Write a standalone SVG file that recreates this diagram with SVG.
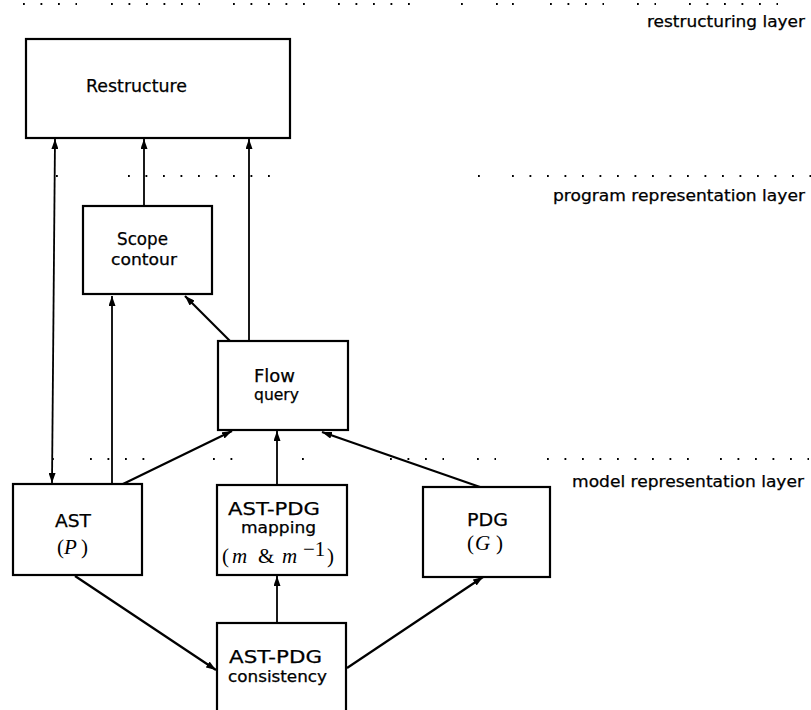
<svg xmlns="http://www.w3.org/2000/svg" width="811" height="710" viewBox="0 0 811 710">
<style>
.box{fill:#fff;stroke:#000;stroke-width:2.2}
.t{font-family:"DejaVu Sans","Liberation Sans",sans-serif;font-size:18px;fill:#000;stroke:#000;stroke-width:0.25}
.s{font-size:15px}
.c{text-anchor:middle}
.m{font-family:"Liberation Serif","DejaVu Serif",serif;font-size:21px;fill:#000}
.mi{font-style:italic}
.ln{stroke:#000;stroke-width:1.8;fill:none}
.dg{stroke:#000;stroke-width:2.2;fill:none}
.dot{stroke:#000;stroke-width:1.8;stroke-dasharray:1.8 15.7;fill:none}
</style>
<defs>
<marker id="ah" viewBox="0 0 10 7" refX="10" refY="3.5" markerWidth="10" markerHeight="7" markerUnits="userSpaceOnUse" orient="auto-start-reverse">
<path d="M0,0 L10,3.5 L0,7 z" fill="#000"/>
</marker>
</defs>
<rect width="811" height="710" fill="#fff"/>

<g id="layers">
<path class="dot" d="M23,4H77 M111,4H200 M233,4H305 M338,4H410 M461,4H463 M496,4H498 M512,4H514 M550,4H604 M637,4H656 M689,4H778"/>
<path class="dot" d="M56,176H58 M128,176H270 M478,176H480 M512,176H811"/>
<path class="dot" d="M52,459H54 M90,459H145 M213,459H233 M302,459H304 M390,459H444 M477,459H496 M547,459H689 M720,459H809"/>
<text class="t s" x="805" y="27" text-anchor="end" textLength="158" lengthAdjust="spacingAndGlyphs">restructuring layer</text>
<text class="t s" x="805" y="201" text-anchor="end" textLength="252" lengthAdjust="spacingAndGlyphs">program representation layer</text>
<text class="t s" x="804" y="487" text-anchor="end" textLength="232" lengthAdjust="spacingAndGlyphs">model representation layer</text>
</g>

<g id="connectors">
<line class="ln" x1="55" y1="139" x2="52" y2="483" marker-start="url(#ah)" marker-end="url(#ah)"/>
<line class="ln" x1="144" y1="206" x2="144" y2="139" marker-end="url(#ah)"/>
<line class="ln" x1="249" y1="341" x2="249" y2="139" marker-end="url(#ah)"/>
<line class="ln" x1="112" y1="484" x2="112" y2="296" marker-end="url(#ah)"/>
<line class="dg" x1="230" y1="341" x2="185" y2="296" marker-end="url(#ah)"/>
<line class="dg" x1="123" y1="484" x2="232" y2="431" marker-end="url(#ah)"/>
<line class="ln" x1="277" y1="485" x2="277" y2="431" marker-end="url(#ah)"/>
<line class="dg" x1="480" y1="487" x2="322" y2="432" marker-end="url(#ah)"/>
<line class="dg" x1="75" y1="576" x2="216" y2="670" marker-end="url(#ah)"/>
<line class="dg" x1="347" y1="668" x2="483" y2="577" marker-end="url(#ah)"/>
<line class="ln" x1="277" y1="623" x2="277" y2="576" marker-end="url(#ah)"/>
</g>

<g id="restructure">
<rect class="box" x="26" y="39" width="264" height="99"/>
<text class="t c" x="136.5" y="92" textLength="101" lengthAdjust="spacingAndGlyphs">Restructure</text>
</g>

<g id="scope">
<rect class="box" x="83" y="206" width="129" height="88"/>
<text class="t c" x="142.5" y="245" textLength="51" lengthAdjust="spacingAndGlyphs">Scope</text>
<text class="t c s" x="144" y="265" textLength="66" lengthAdjust="spacingAndGlyphs">contour</text>
</g>

<g id="flow">
<rect class="box" x="218" y="341" width="130" height="89"/>
<text class="t c" x="274.5" y="382" textLength="41" lengthAdjust="spacingAndGlyphs">Flow</text>
<text class="t c s" x="276.5" y="400" textLength="45" lengthAdjust="spacingAndGlyphs">query</text>
</g>

<g id="ast">
<rect class="box" x="13" y="484" width="129" height="91"/>
<text class="t c" x="73" y="527" textLength="36" lengthAdjust="spacingAndGlyphs">AST</text>
<text class="m" y="554"><tspan x="57">(</tspan><tspan x="64" class="mi">P</tspan><tspan x="81">)</tspan></text>
</g>

<g id="mapping">
<rect class="box" x="217" y="485" width="130" height="90"/>
<text class="t c" x="274" y="515" textLength="92" lengthAdjust="spacingAndGlyphs">AST-PDG</text>
<text class="t c s" x="278.5" y="533" textLength="75" lengthAdjust="spacingAndGlyphs">mapping</text>
<text class="m" y="563"><tspan x="222">(</tspan><tspan x="232" class="mi">m</tspan><tspan x="258">&amp;</tspan><tspan x="282" class="mi">m</tspan><tspan x="327">)</tspan></text>
<text class="m" y="556" font-size="13"><tspan x="303">−1</tspan></text>
</g>

<g id="pdg">
<rect class="box" x="423" y="487" width="127" height="90"/>
<text class="t c" x="487.5" y="526" textLength="41" lengthAdjust="spacingAndGlyphs">PDG</text>
<text class="m" y="550"><tspan x="467">(</tspan><tspan x="475" class="mi">G</tspan><tspan x="496">)</tspan></text>
</g>

<g id="consistency">
<rect class="box" x="217" y="623" width="129" height="100"/>
<text class="t c" x="275.5" y="663" textLength="93" lengthAdjust="spacingAndGlyphs">AST-PDG</text>
<text class="t c s" x="277.5" y="682" textLength="99" lengthAdjust="spacingAndGlyphs">consistency</text>
</g>
</svg>
